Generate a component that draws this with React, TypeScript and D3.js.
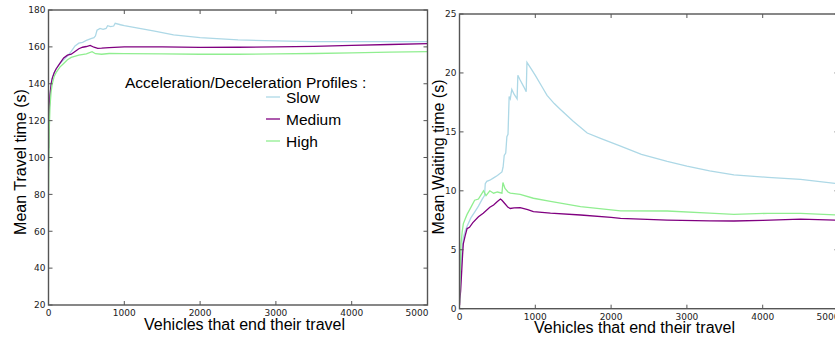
import React from "react";
import * as d3 from "d3";

// ---------- DATA ----------
const xTicks = [0, 1000, 2000, 3000, 4000, 5000];
const travelTicks = [20, 40, 60, 80, 100, 120, 140, 160, 180];
const waitTicks = [0, 5, 10, 15, 20, 25];
const seriesNames = ["Slow", "Medium", "High"];
const seriesColors = ["#add8e6", "#800080", "#90ee90"];

const travelSlow: [number, number][] = [
  [1, 95], [5, 112], [10, 125], [20, 133], [35, 140], [50, 143], [75, 146], [100, 148],
  [150, 151], [200, 153], [250, 155], [300, 157.5], [350, 160.5], [400, 162], [450, 162.5],
  [500, 163.5], [560, 164.5], [600, 165], [620, 166], [640, 169], [680, 170], [720, 169.5],
  [760, 170], [780, 171.5], [820, 171], [860, 171.3], [880, 172.8], [950, 172], [1000, 171.5],
  [1200, 170], [1400, 168.5], [1650, 166.5], [2000, 165], [2500, 163.8], [3000, 163.2],
  [3500, 162.9], [4000, 162.8], [4500, 162.8], [5000, 162.8],
];
const travelMedium: [number, number][] = [
  [1, 105], [5, 118], [10, 126], [20, 134], [35, 140], [50, 143], [75, 146], [100, 148],
  [150, 151], [200, 154], [250, 155.5], [300, 156], [350, 157.5], [400, 159], [450, 159.8],
  [500, 160.2], [550, 160.8], [600, 159.8], [650, 159.2], [700, 159.3], [800, 159.6],
  [1000, 160], [1500, 160], [2000, 159.7], [2500, 159.8], [3000, 160], [3500, 160.3],
  [4000, 160.8], [4500, 161.3], [5000, 161.8],
];
const travelHigh: [number, number][] = [
  [1, 82], [5, 100], [10, 115], [20, 128], [35, 136], [50, 140], [75, 144], [100, 146],
  [150, 149], [200, 151], [250, 153], [300, 154.3], [400, 155.5], [500, 156.2], [575, 157.4],
  [620, 156.3], [700, 156], [800, 156.4], [1000, 156.3], [1500, 156.2], [2000, 156],
  [2500, 156], [3000, 156.2], [3500, 156.4], [4000, 156.8], [4500, 157.1], [5000, 157.4],
];

const waitSlow: [number, number][] = [
  [1, 0.5], [5, 2], [10, 3], [20, 3.6], [35, 5], [50, 6], [75, 6.6], [100, 7], [150, 7.7],
  [200, 8.2], [250, 8.7], [300, 9.3], [330, 9.6], [340, 10.6], [360, 10.8], [400, 10.9],
  [450, 11.1], [500, 11.3], [560, 11.6], [575, 12], [590, 13], [610, 13.2], [625, 14.6],
  [640, 14.8], [655, 18], [670, 17.8], [690, 18.6], [720, 18.2], [760, 17.8], [770, 19.8],
  [800, 19.4], [850, 18.8], [880, 18.4], [890, 20.9], [950, 20.3], [1000, 19.8], [1100, 18.7],
  [1155, 18.1], [1250, 17.4], [1332, 16.9], [1500, 15.9], [1685, 14.9], [1860, 14.45],
  [2125, 13.8], [2400, 13.1], [2740, 12.5], [3000, 12.1], [3300, 11.7], [3620, 11.35],
  [4066, 11.14], [4500, 10.97], [5000, 10.6],
];
const waitMedium: [number, number][] = [
  [1, 0.3], [5, 0.8], [15, 1.5], [25, 2.7], [40, 4.5], [50, 5.5], [75, 6.2], [100, 6.8],
  [132, 6.9], [176, 7.3], [250, 7.8], [313, 8.1], [400, 8.6], [450, 8.8], [500, 9.1],
  [540, 9.3], [560, 9.2], [600, 8.9], [640, 8.6], [670, 8.5], [720, 8.55], [800, 8.57],
  [900, 8.4], [975, 8.23], [1200, 8.1], [1597, 7.95], [2000, 7.75], [2125, 7.67],
  [2740, 7.52], [3300, 7.45], [3620, 7.44], [4000, 7.5], [4500, 7.6], [5000, 7.5],
];
const waitHigh: [number, number][] = [
  [1, 0.5], [5, 2.5], [10, 3.5], [20, 5.5], [35, 6.5], [50, 7.2], [75, 7.6], [100, 8],
  [150, 8.6], [200, 9.2], [250, 9.3], [317, 10], [350, 9.6], [400, 10], [450, 9.8],
  [500, 9.9], [560, 9.8], [573, 10.7], [600, 10.2], [640, 9.9], [670, 9.8], [800, 9.7],
  [975, 9.37], [1200, 9.1], [1597, 8.66], [2125, 8.3], [2740, 8.29], [3300, 8.1],
  [3620, 8.0], [4066, 8.09], [4500, 8.09], [5000, 7.95],
];

const FONT_TICK = "'DejaVu Sans', sans-serif";
const FONT_LABEL = "'Liberation Sans', Arial, sans-serif";
const SPINE = "#555";

type PanelProps = {
  id: string;
  left: number;
  right: number;
  top: number;
  bottom: number;
  yDomain: [number, number];
  yTicks: number[];
  series: [number, number][][];
  yLabel: string;
  yLabelX: number;
  yLabelY: number;
  xLabelX: number;
};

function Panel(p: PanelProps) {
  const x = d3.scaleLinear().domain([0, 5000]).range([p.left, p.right]);
  const y = d3.scaleLinear().domain(p.yDomain).range([p.bottom, p.top]);
  const line = d3
    .line<[number, number]>()
    .x((d) => x(d[0]))
    .y((d) => y(d[1]))
    .curve(d3.curveLinear);
  const tl = 4;
  return (
    <g>
      <defs>
        <clipPath id={p.id}>
          <rect x={p.left} y={p.top} width={p.right - p.left} height={p.bottom - p.top} />
        </clipPath>
      </defs>
      <g clipPath={`url(#${p.id})`}>
        {p.series.map((s, i) => (
          <path key={i} d={line(s) || ""} fill="none" stroke={seriesColors[i]} strokeWidth={1.3} />
        ))}
      </g>
      {xTicks.map((t) => (
        <g key={"xt" + t}>
          <line x1={x(t)} x2={x(t)} y1={p.bottom} y2={p.bottom - tl} stroke={SPINE} strokeWidth={1} />
          <line x1={x(t)} x2={x(t)} y1={p.top} y2={p.top + tl} stroke={SPINE} strokeWidth={1} />
          <text
            x={t === 5000 ? x(t) + 1 : x(t)}
            y={p.bottom + 11}
            textAnchor={t === 5000 ? "end" : "middle"}
            fontFamily={FONT_TICK}
            fontSize={9}
            fill="#222"
          >
            {t}
          </text>
        </g>
      ))}
      {p.yTicks.map((t) => (
        <g key={"yt" + t}>
          <line x1={p.left} x2={p.left + tl} y1={y(t)} y2={y(t)} stroke={SPINE} strokeWidth={1} />
          <line x1={p.right} x2={p.right - tl} y1={y(t)} y2={y(t)} stroke={SPINE} strokeWidth={1} />
          <text
            x={p.left - 3}
            y={y(t) + 3.3}
            textAnchor="end"
            fontFamily={FONT_TICK}
            fontSize={9}
            fill="#222"
          >
            {t}
          </text>
        </g>
      ))}
      <rect
        x={p.left}
        y={p.top}
        width={p.right - p.left}
        height={p.bottom - p.top}
        fill="none"
        stroke={SPINE}
        strokeWidth={1.4}
      />
      <text
        x={p.xLabelX}
        y={p.bottom + 24.5}
        textAnchor="middle"
        fontFamily={FONT_LABEL}
        fontSize={16}
        fill="#000"
      >
        Vehicles that end their travel
      </text>
      <text
        transform={`translate(${p.yLabelX},${p.yLabelY}) rotate(-90)`}
        textAnchor="middle"
        fontFamily={FONT_LABEL}
        fontSize={16}
        fill="#000"
      >
        {p.yLabel}
      </text>
    </g>
  );
}

export default function App() {
  const legendY = [102.5, 124.5, 146.5];
  return (
    <svg
      width={835}
      height={338}
      style={{ position: "absolute", left: 0, top: 0, background: "#fff" }}
    >
      <rect x={0} y={0} width={835} height={338} fill="#fff" />
      <Panel
        id="clipL"
        left={48.5}
        right={427.5}
        top={10}
        bottom={305}
        yDomain={[20, 180]}
        yTicks={travelTicks}
        series={[travelSlow, travelMedium, travelHigh]}
        yLabel="Mean Travel time (s)"
        yLabelX={26}
        yLabelY={162}
        xLabelX={244.5}
      />
      <Panel
        id="clipR"
        left={459.5}
        right={838.5}
        top={14}
        bottom={308.7}
        yDomain={[0, 25]}
        yTicks={waitTicks}
        series={[waitSlow, waitMedium, waitHigh]}
        yLabel="Mean Waiting time (s)"
        yLabelX={444}
        yLabelY={157}
        xLabelX={634.5}
      />
      <text x={125} y={88} fontFamily={FONT_LABEL} fontSize={15.5} fill="#000">
        Acceleration/Deceleration Profiles :
      </text>
      {seriesNames.map((n, i) => (
        <g key={n}>
          <line
            x1={266}
            x2={280}
            y1={legendY[i] - 5.5}
            y2={legendY[i] - 5.5}
            stroke={seriesColors[i]}
            strokeWidth={1.3}
          />
          <text x={286} y={legendY[i]} fontFamily={FONT_LABEL} fontSize={15.5} fill="#000">
            {n}
          </text>
        </g>
      ))}
    </svg>
  );
}
